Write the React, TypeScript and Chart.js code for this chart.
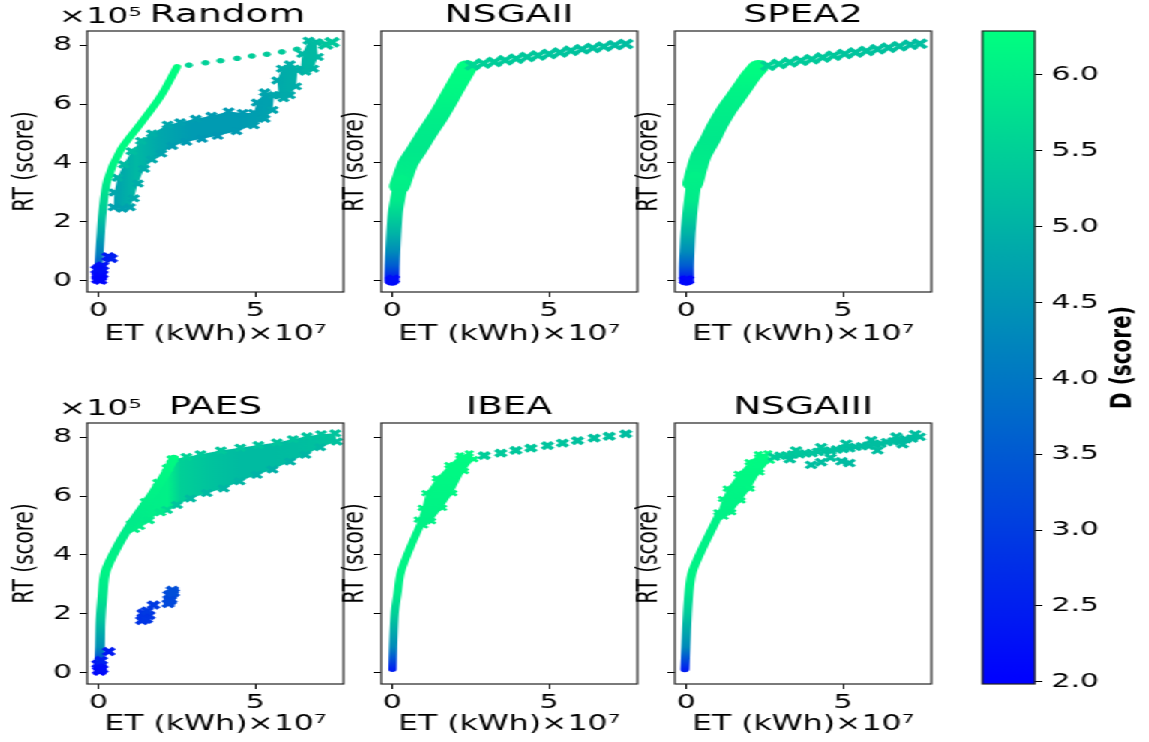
import React, { useEffect, useRef } from 'react';
import { Chart, registerables } from 'chart.js';
Chart.register(...registerables);

const FONT = '"DejaVu Sans", sans-serif';
Chart.defaults.font.family = FONT;

// ---------- labels / ticks ----------
const titles = ['Random', 'NSGAII', 'SPEA2', 'PAES', 'IBEA', 'NSGAIII'];
const xLabel = 'ET (kWh)×10⁷';
const yLabel = 'RT (score)';
const yOffsetLabel = '×10⁵';
const cbLabel = 'D (score)';
const xTicks = [0, 5];
const yTicks = [0, 2, 4, 6, 8];
const cbTicks = [2.0, 2.5, 3.0, 3.5, 4.0, 4.5, 5.0, 5.5, 6.0];
const VMIN = 1.985;
const VMAX = 6.29;
const X_MIN = -0.37, X_MAX = 7.82, Y_MIN = -0.38, Y_MAX = 8.48;

// ---------- data (ET in 1e7 kWh, RT in 1e5, D score) ----------
// Random
const rndLineET = [0.0, 0.02, 0.06, 0.12, 0.28, 0.7, 1.34, 1.97, 2.5];
const rndLineRT = [0.5, 0.9, 1.49, 2.3, 3.42, 4.44, 5.34, 6.25, 7.26];
const rndLineD = [3.4, 4.1, 4.7, 5.4, 6.0, 6.2, 6.2, 6.22, 6.25];
const rndDotET = [2.88, 3.41, 3.89, 4.42, 4.89, 5.37, 5.85, 6.33];
const rndDotRT = [7.32, 7.4, 7.47, 7.55, 7.63, 7.69, 7.77, 7.86];
const rndDotD = [5.55, 5.5, 5.5, 5.45, 5.45, 5.4, 5.4, 5.35];
const rndBlueET = [-0.03, 0.05, 0.0, 0.08, 0.03, 0.1, -0.02, 0.12, -0.05, 0.06, 0.3, 0.4];
const rndBlueRT = [0.05, 0.12, 0.25, 0.35, 0.45, 0.22, 0.15, 0.5, 0.38, 0.02, 0.82, 0.76];
const rndBlueD = [2.05, 2.1, 2.15, 2.2, 2.3, 2.15, 2.1, 2.3, 2.2, 2.05, 2.45, 2.5];
const rndCloudET = [0.48, 0.5, 0.6, 0.8, 1.05, 1.35, 1.7, 2.2, 2.6, 3.1, 3.6, 4.15, 4.6, 4.95, 5.05, 5.3, 5.6, 5.55, 5.3, 4.95, 4.4, 3.8, 3.3, 2.8, 2.35, 2.0, 1.7, 1.45, 1.25, 1.12, 1.0, 0.75];
const rndCloudRT = [2.5, 3.0, 3.5, 3.95, 4.4, 4.75, 5.0, 5.3, 5.38, 5.5, 5.6, 5.75, 5.7, 5.7, 6.05, 6.4, 6.3, 5.8, 5.5, 5.28, 5.08, 4.92, 4.82, 4.72, 4.58, 4.32, 4.12, 3.8, 3.3, 2.8, 2.5, 2.45];
const rndCloudD = [4.7, 4.8, 5.0, 5.15, 5.2, 5.1, 4.95, 4.8, 4.7, 4.65, 4.6, 4.6, 4.6, 4.65, 4.7, 4.75, 4.8, 4.75, 4.7, 4.65, 4.6, 4.55, 4.55, 4.6, 4.65, 4.75, 4.85, 4.9, 4.9, 4.85, 4.75, 4.7];
const rndCloudGradET = [0.5, 1.2, 2.0, 3.0, 4.5, 5.3];
const rndCloudGradD = [4.7, 5.1, 4.8, 4.6, 4.6, 4.7];
const rndStep2ET = [5.75, 5.7, 5.85, 6.1, 6.35, 6.3, 6.1, 5.9];
const rndStep2RT = [6.3, 6.8, 7.2, 7.35, 7.15, 6.6, 6.3, 6.2];
const rndStep2D = [4.85, 4.85, 4.9, 4.95, 4.95, 4.9, 4.85, 4.85];
const rndStep2GradET = [5.7, 6.35];
const rndStep2GradD = [4.85, 4.95];
const rndStep3ET = [6.45, 6.5, 6.7, 6.95, 7.0, 6.85, 6.6];
const rndStep3RT = [7.2, 7.7, 8.15, 8.1, 7.6, 7.2, 7.1];
const rndStep3D = [5.05, 5.1, 5.15, 5.15, 5.1, 5.05, 5.05];
const rndStep3GradET = [6.45, 7.0];
const rndStep3GradD = [5.05, 5.15];
const rndXET = [7.25, 7.45];
const rndXRT = [8.02, 8.1];
const rndXD = [5.3, 5.35];

// NSGAII
const nsga2LowET = [-0.02, -0.01, 0.01, 0.04, 0.09, 0.16, 0.29];
const nsga2LowRT = [0.0, 0.5, 1.0, 1.6, 2.3, 2.75, 3.42];
const nsga2LowD = [2.2, 3.5, 4.35, 5.0, 5.6, 5.95, 6.05];
const nsga2UpET = [0.22, 0.5, 0.77, 1.1, 1.45, 1.75, 2.07, 2.38];
const nsga2UpRT = [3.2, 4.0, 4.44, 5.0, 5.56, 6.1, 6.7, 7.25];
const nsga2UpD = [6.05, 5.95, 5.9, 5.95, 6.0, 6.1, 6.2, 6.25];
const nsga2TailET = [2.55, 2.9, 3.25, 3.6, 3.95, 4.3, 4.65, 5.0, 5.35, 5.7, 6.05, 6.4, 6.75, 7.1, 7.45];
const nsga2TailRT = [7.32, 7.38, 7.43, 7.49, 7.54, 7.6, 7.65, 7.7, 7.75, 7.81, 7.86, 7.9, 7.95, 8.0, 8.04];
const nsga2TailD = [5.6, 5.5, 5.45, 5.4, 5.4, 5.35, 5.35, 5.3, 5.3, 5.3, 5.25, 5.25, 5.25, 5.2, 5.2];
const nsga2OriginET = [-0.02, 0.03];
const nsga2OriginRT = [0.02, 0.05];
const nsga2OriginD = [2.1, 2.2];

// SPEA2
const spea2LowET = [0.0, 0.0, 0.02, 0.05, 0.1, 0.16, 0.27];
const spea2LowRT = [0.0, 0.5, 1.0, 1.62, 2.2, 2.75, 3.54];
const spea2LowD = [2.2, 3.5, 4.35, 5.0, 5.55, 5.95, 6.05];
const spea2UpET = [0.2, 0.45, 0.75, 1.0, 1.28, 1.55, 1.81, 2.05, 2.3];
const spea2UpRT = [3.3, 4.2, 4.78, 5.3, 5.8, 6.2, 6.59, 6.95, 7.26];
const spea2UpD = [6.05, 5.95, 5.9, 5.95, 6.0, 6.05, 6.1, 6.2, 6.25];
const spea2TailET = [2.6, 2.95, 3.3, 3.65, 4.0, 4.35, 4.7, 5.05, 5.4, 5.75, 6.1, 6.45, 6.8, 7.15, 7.45];
const spea2TailRT = [7.3, 7.36, 7.42, 7.47, 7.52, 7.58, 7.64, 7.7, 7.75, 7.8, 7.86, 7.91, 7.96, 8.01, 8.05];
const spea2TailD = [5.55, 5.5, 5.45, 5.4, 5.4, 5.35, 5.35, 5.3, 5.3, 5.3, 5.25, 5.25, 5.25, 5.2, 5.2];
const spea2OriginET = [-0.03, 0.04];
const spea2OriginRT = [0.02, 0.03];
const spea2OriginD = [2.05, 2.1];

// PAES
const paesLineET = [0.01, 0.04, 0.06, 0.12, 0.22, 0.6, 1.12, 1.66, 2.08, 2.4];
const paesLineRT = [0.09, 0.88, 1.79, 2.59, 3.44, 4.29, 5.19, 5.99, 6.67, 7.29];
const paesLineD = [2.3, 4.4, 5.3, 5.85, 6.1, 6.0, 5.95, 6.05, 6.15, 6.2];
const paesFanET = [1.05, 1.5, 1.9, 2.2, 2.35, 2.8, 3.25, 3.9, 4.52, 5.1, 5.69, 6.2, 6.65, 7.1, 7.55, 7.6, 7.07, 6.6, 6.11, 5.55, 5.05, 4.5, 3.99, 3.45, 2.93, 2.5, 2.18, 1.97, 1.6, 1.3, 1.13];
const paesFanRT = [5.05, 5.8, 6.45, 6.95, 7.25, 7.33, 7.42, 7.55, 7.64, 7.73, 7.82, 7.93, 8.03, 8.1, 8.13, 7.85, 7.66, 7.4, 7.17, 6.9, 6.72, 6.5, 6.26, 6.1, 5.92, 5.7, 5.53, 5.45, 5.18, 4.98, 4.88];
const paesFanD = [6.0, 6.05, 6.1, 6.1, 6.1, 5.55, 5.4, 5.35, 5.3, 5.3, 5.3, 5.3, 5.3, 5.3, 5.3, 5.25, 5.1, 5.05, 5.0, 4.95, 5.0, 5.05, 5.05, 5.1, 5.15, 5.3, 5.6, 5.9, 5.95, 6.0, 6.0];
const paesFanGradET = [1.0, 2.2, 2.6, 3.5, 4.5, 5.5, 6.5, 7.6];
const paesFanGradD = [5.95, 6.05, 5.5, 5.3, 5.15, 5.15, 5.2, 5.3];
const paesBlueET = [0.0, 0.05, -0.02, 0.08, 0.03, 0.1, 0.32, 1.38, 1.45, 1.52, 1.6, 1.42, 1.55, 1.75, 2.22, 2.3, 2.25, 2.35, 2.28, 2.38];
const paesBlueRT = [0.08, 0.18, 0.3, 0.42, 0.05, 0.12, 0.72, 1.78, 1.88, 1.82, 1.95, 2.02, 2.1, 2.3, 2.35, 2.5, 2.65, 2.8, 2.45, 2.72];
const paesBlueD = [2.1, 2.2, 2.3, 2.5, 2.1, 2.2, 2.4, 2.85, 2.85, 2.9, 2.9, 2.85, 2.95, 2.95, 3.2, 3.2, 3.25, 3.3, 3.2, 3.3];

// IBEA
const ibeaLowET = [0.0, 0.02, 0.07, 0.16, 0.27, 0.58, 0.96];
const ibeaLowRT = [0.12, 0.88, 2.02, 2.7, 3.43, 4.29, 5.19];
const ibeaLowD = [2.5, 4.3, 5.5, 5.95, 6.1, 6.1, 6.05];
const ibeaBlobET = [0.82, 0.95, 1.07, 1.4, 1.8, 2.15, 2.45, 2.6, 2.3, 1.93, 1.6, 1.25, 1.0];
const ibeaBlobRT = [5.2, 5.6, 6.1, 6.6, 7.05, 7.38, 7.45, 7.25, 6.85, 6.1, 5.6, 5.15, 5.0];
const ibeaBlobD = [6.05, 6.1, 6.1, 6.15, 6.2, 6.2, 6.2, 6.2, 6.2, 6.15, 6.1, 6.05, 6.05];
const ibeaBlobGradRT = [5.0, 7.45];
const ibeaBlobGradD = [6.05, 6.22];
const ibeaTailET = [2.93, 3.46, 3.94, 4.42, 4.95, 5.43, 5.91, 6.44, 6.92, 7.45];
const ibeaTailRT = [7.37, 7.46, 7.55, 7.63, 7.71, 7.8, 7.88, 7.97, 8.03, 8.11];
const ibeaTailD = [5.45, 5.4, 5.35, 5.35, 5.3, 5.3, 5.25, 5.25, 5.25, 5.2];

// NSGAIII
const nsga3LowET = [-0.05, -0.02, 0.03, 0.1, 0.19, 0.54, 1.07];
const nsga3LowRT = [0.12, 0.88, 2.02, 2.93, 3.44, 4.29, 5.42];
const nsga3LowD = [2.5, 4.3, 5.4, 6.0, 6.1, 6.05, 6.05];
const nsga3BlobET = [1.0, 1.15, 1.3, 1.65, 2.0, 2.3, 2.6, 2.68, 2.35, 2.04, 1.75, 1.45, 1.2];
const nsga3BlobRT = [5.45, 5.9, 6.25, 6.75, 7.15, 7.42, 7.45, 7.2, 6.8, 6.25, 5.85, 5.45, 5.3];
const nsga3BlobD = [6.05, 6.1, 6.1, 6.15, 6.2, 6.2, 6.2, 6.15, 6.15, 6.15, 6.1, 6.05, 6.05];
const nsga3BlobGradRT = [5.3, 7.45];
const nsga3BlobGradD = [6.05, 6.22];
const nsga3TailET = [2.8, 3.0, 3.2, 3.4, 3.6, 3.8, 4.0, 4.2, 4.4, 4.6, 4.8, 5.0, 5.2, 5.4, 5.6, 5.8, 6.0, 6.2, 6.4, 6.6, 6.8, 7.0, 7.2, 7.45, 3.5, 4.3, 5.1, 5.9, 6.7, 7.3, 3.3, 3.98, 4.3, 4.95, 5.2, 4.6, 6.1, 6.9];
const nsga3TailRT = [7.33, 7.37, 7.38, 7.41, 7.42, 7.45, 7.46, 7.5, 7.52, 7.54, 7.58, 7.6, 7.62, 7.67, 7.69, 7.71, 7.76, 7.78, 7.83, 7.85, 7.89, 7.93, 7.95, 8.01, 7.55, 7.66, 7.78, 7.9, 8.02, 8.1, 7.25, 7.06, 7.15, 7.18, 7.12, 7.3, 7.55, 7.76];
const nsga3TailD = [5.45, 5.4, 5.4, 5.35, 5.35, 5.3, 5.3, 5.3, 5.25, 5.25, 5.25, 5.25, 5.2, 5.2, 5.2, 5.2, 5.2, 5.2, 5.2, 5.2, 5.2, 5.15, 5.15, 5.2, 5.35, 5.3, 5.25, 5.2, 5.2, 5.2, 5.3, 5.2, 5.2, 5.15, 5.15, 5.25, 5.2, 5.15];

// ---------- layout (logical px; the figure is stretched 1.5x horizontally) ----------
const SX = 1.5;
const FIG_W = 766;
const FIG_H = 742;
const BOX_W = 171;
const BOX_H = 261;
const COL_LEFT = [58, 254, 450];
const ROW_TOP = [31, 423];
const TITLE_H = 31;
const XAXIS_H = 58;
const CB_LEFT = 655, CB_RIGHT = 690, CB_TOP = 31, CB_BOTTOM = 684;

// ---------- helpers ----------
function winter(d: number): string {
  let t = (d - VMIN) / (VMAX - VMIN);
  t = Math.max(0, Math.min(1, t));
  return `rgb(0,${Math.round(255 * t)},${Math.round(255 - 127.5 * t)})`;
}

type Series = { et: number[]; rt: number[]; d: number[] };
type Band = { s: Series; w: number; cap?: string };
type Marks = { s: Series; r: number; bw: number; style?: string };
type Poly = { s: Series; gv: number[]; gD: number[]; axis: 'x' | 'y'; r: number; bw: number };
type PanelSpec = { title: string; col: number; row: number; shift: number; polys: Poly[]; bands: Band[]; marks: Marks[] };

const S = (et: number[], rt: number[], d: number[]): Series => ({ et, rt, d });
const pts = (s: Series) => s.et.map((x, i) => ({ x, y: s.rt[i] }));

function grad(chart: any, axis: 'x' | 'y', vals: number[], ds: number[]) {
  const sc = chart.scales && chart.scales[axis];
  if (!chart.chartArea || !sc) return winter(ds[0]);
  const p0 = sc.getPixelForValue(vals[0]);
  const p1 = sc.getPixelForValue(vals[vals.length - 1]);
  const g = axis === 'x'
    ? chart.ctx.createLinearGradient(p0, 0, p1, 0)
    : chart.ctx.createLinearGradient(0, p0, 0, p1);
  vals.forEach((v: number, i: number) => {
    const f = (sc.getPixelForValue(v) - p0) / (p1 - p0 || 1);
    g.addColorStop(Math.max(0, Math.min(1, f)), winter(ds[i]));
  });
  return g;
}

function bandDs(b: Band) {
  const s = b.s;
  return {
    data: pts(s), showLine: true, borderWidth: b.w, pointRadius: 0, pointHoverRadius: 0,
    borderCapStyle: b.cap || 'round', borderJoinStyle: 'round', fill: false, tension: 0.3,
    borderColor: (ctx: any) => grad(ctx.chart, 'y', s.rt, s.d),
    order: 1,
  };
}

function markDs(m: Marks) {
  const cols = m.s.d.map(winter);
  return {
    data: pts(m.s), showLine: false, pointStyle: m.style || 'crossRot', pointRadius: m.r, pointHoverRadius: m.r,
    pointBorderWidth: m.bw, pointBorderColor: cols, pointBackgroundColor: cols, order: 0,
  };
}

function polyDs(p: Poly) {
  const cols = p.s.d.map(winter);
  return {
    data: pts(p.s), showLine: true, borderWidth: 0, borderColor: 'rgba(0,0,0,0)', tension: 0,
    fill: 'shape', backgroundColor: (ctx: any) => grad(ctx.chart, p.axis, p.gv, p.gD),
    pointStyle: 'crossRot', pointRadius: p.r, pointHoverRadius: p.r, pointBorderWidth: p.bw,
    pointBorderColor: cols, pointBackgroundColor: cols, order: 2,
  };
}

const decorPlugin = {
  id: 'decor',
  afterDraw(chart: any, _args: any, opts: any) {
    const { ctx, chartArea: a } = chart;
    ctx.save();
    ctx.strokeStyle = '#222';
    ctx.lineWidth = 1.2;
    ctx.strokeRect(a.left, a.top, a.right - a.left, a.bottom - a.top);
    if (opts && opts.offsetText) {
      ctx.fillStyle = '#000';
      ctx.font = `22px ${FONT}`;
      ctx.textAlign = 'left';
      ctx.textBaseline = 'alphabetic';
      ctx.fillText(opts.offsetText, a.left - 19, a.top - 8);
    }
    if (opts && opts.sideLabel) {
      ctx.translate(a.right + 59, (a.top + a.bottom) / 2);
      ctx.rotate(-Math.PI / 2);
      ctx.fillStyle = '#000';
      ctx.font = `bold 20px ${FONT}`;
      ctx.textAlign = 'center';
      ctx.textBaseline = 'middle';
      ctx.fillText(opts.sideLabel, 0, 0);
    }
    ctx.restore();
  },
};

const tickGrid = { display: true, drawOnChartArea: false, drawTicks: true, tickLength: 5, color: '#000', lineWidth: 1 };

function panelConfig(spec: PanelSpec, L: number) {
  const datasets: any[] = [
    ...spec.polys.map(polyDs),
    ...spec.bands.map(bandDs),
    ...spec.marks.map(markDs),
  ];
  const first = spec.col === 0;
  return {
    type: 'scatter',
    data: { datasets },
    plugins: [decorPlugin],
    options: {
      responsive: false, animation: false, devicePixelRatio: 1,
      layout: { padding: { left: 0, right: 0, top: 0, bottom: 0 } },
      plugins: {
        legend: { display: false }, tooltip: { enabled: false },
        title: {
          display: true, text: spec.title, color: '#000',
          font: { family: FONT, size: 25, weight: 'normal', lineHeight: 1.2 },
          padding: { top: 0, bottom: 1 },
        },
        decor: { offsetText: first ? yOffsetLabel : '' },
      },
      scales: {
        x: {
          type: 'linear', position: 'bottom', min: X_MIN, max: X_MAX,
          afterBuildTicks: (s: any) => { s.ticks = xTicks.map((v) => ({ value: v })); },
          afterFit: (s: any) => { s.height = XAXIS_H; },
          ticks: { color: '#000', font: { family: FONT, size: 20 }, padding: 2, maxRotation: 0, autoSkip: false, callback: (v: any) => String(v) },
          grid: tickGrid, border: { display: false },
          title: { display: true, text: xLabel, color: '#000', font: { family: FONT, size: 21 }, padding: { top: 0, bottom: spec.row === 0 ? 3 : 5 } },
        },
        y: {
          type: 'linear', position: 'left', min: Y_MIN, max: Y_MAX,
          afterBuildTicks: (s: any) => { s.ticks = yTicks.map((v) => ({ value: v })); },
          afterFit: (s: any) => { s.width = L; },
          ticks: { color: '#000', font: { family: FONT, size: 20 }, padding: 5, autoSkip: false, callback: (v: any) => (first ? String(v) : '') },
          grid: tickGrid, border: { display: false },
          title: { display: true, text: yLabel, color: '#000', font: { family: FONT, size: 20 }, padding: { top: first ? 5 : 1, bottom: 0 } },
        },
        yPad: {
          type: 'linear', position: 'right', display: true,
          afterFit: (s: any) => { s.width = L + 2 * spec.shift; },
          ticks: { display: false }, grid: { display: false }, border: { display: false },
        },
      },
    },
  };
}

function Panel({ spec }: { spec: PanelSpec }) {
  const ref = useRef<HTMLCanvasElement>(null);
  const L = spec.col === 0 ? 58 : 30;
  const left = COL_LEFT[spec.col] - L;
  const top = ROW_TOP[spec.row] - TITLE_H;
  const w = 2 * L + BOX_W + 2 * spec.shift;
  const h = TITLE_H + BOX_H + XAXIS_H;
  useEffect(() => {
    const chart = new Chart(ref.current as HTMLCanvasElement, panelConfig(spec, L) as any);
    return () => chart.destroy();
  }, []);
  return <canvas ref={ref} width={w} height={h} style={{ position: 'absolute', left, top, width: w, height: h }} />;
}

function ColorBar() {
  const ref = useRef<HTMLCanvasElement>(null);
  const left = 640;
  const w = FIG_W - left;
  const h = FIG_H;
  useEffect(() => {
    const chart = new Chart(ref.current as HTMLCanvasElement, {
      type: 'bar',
      data: {
        labels: [cbLabel],
        datasets: [{
          data: [[VMIN, VMAX]] as any,
          borderWidth: 0, barPercentage: 1, categoryPercentage: 1,
          backgroundColor: (ctx: any) => grad(ctx.chart, 'y', [VMIN, VMAX], [VMIN, VMAX]),
        }],
      },
      plugins: [decorPlugin],
      options: {
        responsive: false, animation: false, devicePixelRatio: 1,
        layout: { padding: { left: CB_LEFT - left, right: 0, top: CB_TOP, bottom: FIG_H - CB_BOTTOM } },
        plugins: { legend: { display: false }, tooltip: { enabled: false }, decor: { sideLabel: cbLabel } },
        scales: {
          x: { display: false },
          y: {
            position: 'right', min: VMIN, max: VMAX,
            afterBuildTicks: (s: any) => { s.ticks = cbTicks.map((v) => ({ value: v })); },
            afterFit: (s: any) => { s.width = w - (CB_RIGHT - left); },
            ticks: { color: '#000', font: { family: FONT, size: 20 }, padding: 6, autoSkip: false, callback: (v: any) => Number(v).toFixed(1) },
            grid: tickGrid, border: { display: false },
          },
        },
      } as any,
    } as any);
    return () => chart.destroy();
  }, []);
  return <canvas ref={ref} width={w} height={h} style={{ position: 'absolute', left, top: 0, width: w, height: h }} />;
}

const panels: PanelSpec[] = [
  {
    title: titles[0], col: 0, row: 0, shift: 8,
    polys: [
      { s: S(rndCloudET, rndCloudRT, rndCloudD), gv: rndCloudGradET, gD: rndCloudGradD, axis: 'x', r: 4.5, bw: 3 },
      { s: S(rndStep2ET, rndStep2RT, rndStep2D), gv: rndStep2GradET, gD: rndStep2GradD, axis: 'x', r: 4.5, bw: 3 },
      { s: S(rndStep3ET, rndStep3RT, rndStep3D), gv: rndStep3GradET, gD: rndStep3GradD, axis: 'x', r: 4.5, bw: 3 },
    ],
    bands: [{ s: S(rndLineET, rndLineRT, rndLineD), w: 5.5 }],
    marks: [
      { s: S(rndDotET, rndDotRT, rndDotD), r: 2.3, bw: 1, style: 'circle' },
      { s: S(rndBlueET, rndBlueRT, rndBlueD), r: 5, bw: 3.5 },
      { s: S(rndXET, rndXRT, rndXD), r: 6, bw: 3.5 },
    ],
  },
  {
    title: titles[1], col: 1, row: 0, shift: 0, polys: [],
    bands: [{ s: S(nsga2LowET, nsga2LowRT, nsga2LowD), w: 10 }, { s: S(nsga2UpET, nsga2UpRT, nsga2UpD), w: 14 }],
    marks: [
      { s: S(nsga2TailET, nsga2TailRT, nsga2TailD), r: 6, bw: 3.5 },
      { s: S(nsga2OriginET, nsga2OriginRT, nsga2OriginD), r: 5, bw: 3.5 },
    ],
  },
  {
    title: titles[2], col: 2, row: 0, shift: 0, polys: [],
    bands: [{ s: S(spea2LowET, spea2LowRT, spea2LowD), w: 10 }, { s: S(spea2UpET, spea2UpRT, spea2UpD), w: 14 }],
    marks: [
      { s: S(spea2TailET, spea2TailRT, spea2TailD), r: 6, bw: 3.5 },
      { s: S(spea2OriginET, spea2OriginRT, spea2OriginD), r: 5, bw: 3.5 },
    ],
  },
  {
    title: titles[3], col: 0, row: 1, shift: 0,
    polys: [{ s: S(paesFanET, paesFanRT, paesFanD), gv: paesFanGradET, gD: paesFanGradD, axis: 'x', r: 4.5, bw: 3 }],
    bands: [{ s: S(paesLineET, paesLineRT, paesLineD), w: 6.5 }],
    marks: [{ s: S(paesBlueET, paesBlueRT, paesBlueD), r: 5, bw: 3.5 }],
  },
  {
    title: titles[4], col: 1, row: 1, shift: 0,
    polys: [{ s: S(ibeaBlobET, ibeaBlobRT, ibeaBlobD), gv: ibeaBlobGradRT, gD: ibeaBlobGradD, axis: 'y', r: 3.5, bw: 2.5 }],
    bands: [{ s: S(ibeaLowET, ibeaLowRT, ibeaLowD), w: 5.5 }],
    marks: [{ s: S(ibeaTailET, ibeaTailRT, ibeaTailD), r: 4.8, bw: 3.5 }],
  },
  {
    title: titles[5], col: 2, row: 1, shift: 0,
    polys: [{ s: S(nsga3BlobET, nsga3BlobRT, nsga3BlobD), gv: nsga3BlobGradRT, gD: nsga3BlobGradD, axis: 'y', r: 3.5, bw: 2.5 }],
    bands: [{ s: S(nsga3LowET, nsga3LowRT, nsga3LowD), w: 6 }],
    marks: [{ s: S(nsga3TailET, nsga3TailRT, nsga3TailD), r: 4.8, bw: 3 }],
  },
];

export default function App() {
  return (
    <div style={{ position: 'fixed', left: 0, top: 0, width: FIG_W, height: FIG_H, transform: `scaleX(${SX})`, transformOrigin: '0 0', background: '#fff', overflow: 'hidden' }}>
      {panels.map((p) => <Panel key={p.title} spec={p} />)}
      <ColorBar />
    </div>
  );
}
